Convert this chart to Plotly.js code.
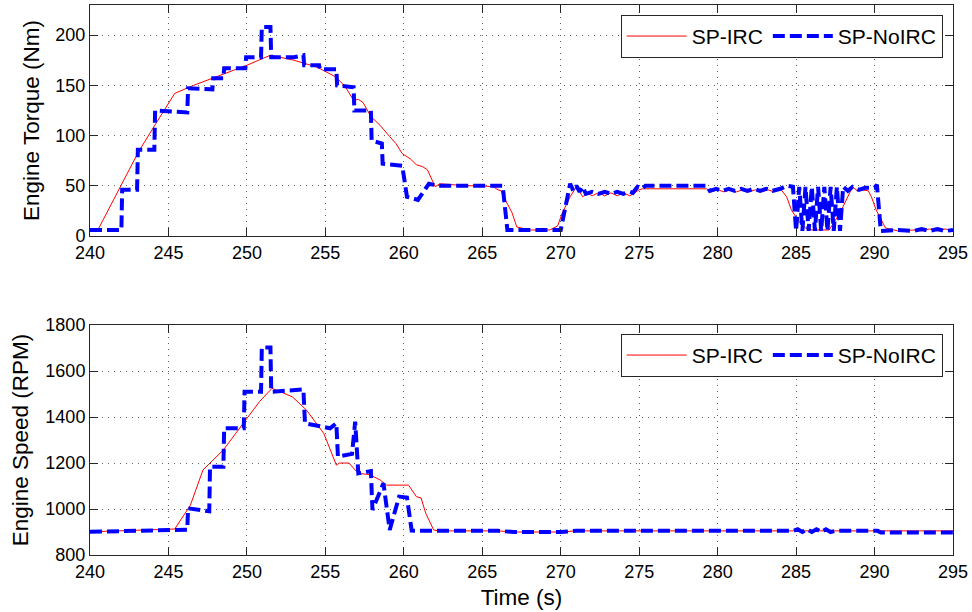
<!DOCTYPE html>
<html>
<head>
<meta charset="utf-8">
<script src="https://cdn.plot.ly/plotly-3.0.1.min.js"></script>
<style>html,body{margin:0;padding:0;background:#fff;}#chart{width:972px;height:612px;}</style>
</head>
<body>
<div id="chart"></div>
<script>
// ---- Engine torque, SP-IRC ----
const torqueIrcT = [
  240,240.5,241.5,242.5,243.1,244.2,245.4,246.6,248,250,
  251.5,253,254.5,255.7,256.3,256.8,257.1,257.4,257.9,258.5,
  259.1,259.5,259.9,260.4,260.8,261.2,261.5,262.0,262.3,263,
  264,265,265.7,266.0,266.2,266.5,266.9,267.2,268,269.3,
  269.8,270.1,270.6,271.0,271.2,271.4,271.7,272.0,272.4,272.8,
  273.2,273.6,274.0,274.4,274.6,275.0,275.2,279.3,279.6,280.0,
  280.4,280.8,281.2,281.6,282.0,282.4,282.8,283.2,283.6,284.0,
  284.4,284.7,285.2,285.6,286,287.1,287.8,288.4,288.6,288.9,
  289.2,289.6,289.8,290.1,290.7,291.5,292.5,293,293.5,294,
  294.5,295];
const torqueIrc = [
  6,6,36,66,84,112,142,150,158,170,
  180,175,168,158,148,135,136,133,119,110,
  99,92,82,77,71,69,66,49,52,51,
  50,50,49,46,45,35,23,9,6,6,
  10,23,39,49,44,39,43,40,43,40,
  43,40,43,40,42,46,47,47,44,46,
  44,46,44,46,44,46,44,46,44,47,
  39,26,14,8,6,6,23,43,49,45,
  46,45,39,26,8,5,6,5,7,5,
  7,5];

// ---- Engine torque, SP-NoIRC ----
const torqueNoT = [
  240,242.0,242.05,243.0,243.05,244.1,244.15,246.2,246.25,247.8,
  247.85,248.5,248.55,249.9,249.95,250.9,250.95,251.5,251.55,253.0,
  253.6,253.65,254.6,254.65,255.7,255.75,256.8,256.85,257.9,257.95,
  258.6,258.65,259.9,260.2,260.9,261.6,262.2,266.3,266.6,270.0,
  270.6,270.8,271.0,271.2,271.4,271.6,272.0,272.4,272.8,273.2,
  273.6,274.0,274.4,274.6,274.9,275.2,275.4,279.3,279.5,279.9,
  280.3,280.7,281.1,281.5,281.9,282.3,282.7,283.1,283.5,284.0,
  284.4,284.8,285.0,285.2,285.4,285.6,285.8,286.0,286.2,286.4,
  286.6,286.8,287.0,287.2,287.4,287.6,287.8,288.0,288.3,288.6,
  289.0,289.4,290.0,290.15,290.4,291.5,292.5,293.0,293.5,294.0,
  294.5,295];
const torqueNo = [
  6,6,46,46,86,86,125,123,147,146,
  157,157,167,167,178,178,208,208,178,178,
  180,170,170,166,166,150,148,125,125,95,
  92,72,70,39,36,52,50,50,6,6,
  52,45,50,44,49,42,44,42,44,42,
  44,42,44,43,49,47,50,50,45,47,
  45,47,45,47,45,47,45,47,45,47,
  50,49,5,49,5,49,5,49,5,49,
  5,49,5,49,5,49,5,49,45,49,
  46,48,48,51,5,6,5,7,5,7,
  5,6];

// ---- Engine speed, SP-IRC ----
const speedIrcT = [
  240,245.4,246.4,247.2,248.5,249.8,250.8,251.6,252.9,253.8,
  254.9,255.7,255.9,256.5,257.1,257.8,258.5,258.9,260.3,260.8,
  261.1,261.4,261.9,262.2,266,267,270,271,295];
const speedIrc = [
  901,913,1017,1170,1257,1373,1467,1525,1488,1430,
  1329,1191,1200,1200,1155,1150,1126,1104,1104,1054,
  1048,981,909,905,905,900,900,905,905];

// ---- Engine speed, SP-NoIRC ----
const speedNoT = [
  240,245.4,246.2,246.25,247.0,247.6,247.65,248.5,248.55,249.8,
  249.85,250.9,250.95,251.5,251.55,253.2,253.6,253.7,255.3,255.7,
  255.8,256.7,256.9,257.1,257.9,258.0,258.7,259.1,259.7,260.2,
  260.5,262,266,267,270,271,284.8,285.1,285.4,285.7,
  286.0,286.3,286.6,286.9,287.2,287.5,290.2,290.4,295];
const speedNo = [
  901,910,910,1003,995,990,1184,1184,1351,1351,
  1510,1510,1703,1703,1510,1515,1520,1373,1351,1373,
  1228,1240,1380,1155,1165,996,1112,909,1054,1050,
  906,905,905,900,900,905,905,912,900,912,
  900,912,900,912,900,905,905,898,898];

const seriesNames = ['SP-IRC', 'SP-NoIRC'];
const xTicks = [240,245,250,255,260,265,270,275,280,285,290,295];
const torqueTicks = [0,50,100,150,200];
const speedTicks = [800,1000,1200,1400,1600,1800];

const FONT = 'Liberation Sans, Arial, Helvetica, sans-serif';
const red = {color:'#ff0000', width:1};
const blue = {color:'#0000ff', width:4, dash:'12px,5px'};

const traces = [
  {x:torqueIrcT, y:torqueIrc, name:seriesNames[0], mode:'lines', line:red, xaxis:'x', yaxis:'y', legend:'legend'},
  {x:torqueNoT, y:torqueNo, name:seriesNames[1], mode:'lines', line:blue, xaxis:'x', yaxis:'y', legend:'legend'},
  {x:speedIrcT, y:speedIrc, name:seriesNames[0], mode:'lines', line:red, xaxis:'x2', yaxis:'y2', legend:'legend2'},
  {x:speedNoT, y:speedNo, name:seriesNames[1], mode:'lines', line:blue, xaxis:'x2', yaxis:'y2', legend:'legend2'}
];

const axBase = {
  showline:true, linecolor:'#262626', linewidth:1, mirror:'ticks',
  ticks:'inside', ticklen:8, tickcolor:'#262626',
  showgrid:true, gridcolor:'#606060', griddash:'1px,5px', gridwidth:1,
  zeroline:false, tickfont:{family:FONT, size:18, color:'#000'}
};

const legBase = {
  orientation:'h', xanchor:'right', yanchor:'top', x:0.988,
  bgcolor:'#ffffff', bordercolor:'#262626', borderwidth:1, itemwidth:60,
  font:{family:FONT, size:21, color:'#000'}, traceorder:'normal'
};

const layout = {
  width:972, height:612,
  margin:{l:90, r:19, t:5, b:57},
  paper_bgcolor:'#ffffff', plot_bgcolor:'#ffffff',
  font:{family:FONT, color:'#000'},
  showlegend:true,
  xaxis:Object.assign({}, axBase, {domain:[0,1], anchor:'y', range:[240,295], tickvals:xTicks}),
  yaxis:Object.assign({}, axBase, {domain:[0.58,1], anchor:'x', range:[0,230], tickvals:torqueTicks,
    title:{text:'Engine Torque (Nm)', font:{family:FONT, size:22.5}, standoff:9}}),
  xaxis2:Object.assign({}, axBase, {domain:[0,1], anchor:'y2', range:[240,295], tickvals:xTicks,
    title:{text:'Time (s)', font:{family:FONT, size:22.5}, standoff:8}}),
  yaxis2:Object.assign({}, axBase, {domain:[0,0.418], anchor:'x2', range:[800,1800], tickvals:speedTicks,
    title:{text:'Engine Speed (RPM)', font:{family:FONT, size:22.5}, standoff:10}}),
  legend:Object.assign({}, legBase, {y:0.982}),
  legend2:Object.assign({}, legBase, {y:0.402})
};

Plotly.newPlot('chart', traces, layout, {displayModeBar:false, staticPlot:true});
</script>
</body>
</html>
